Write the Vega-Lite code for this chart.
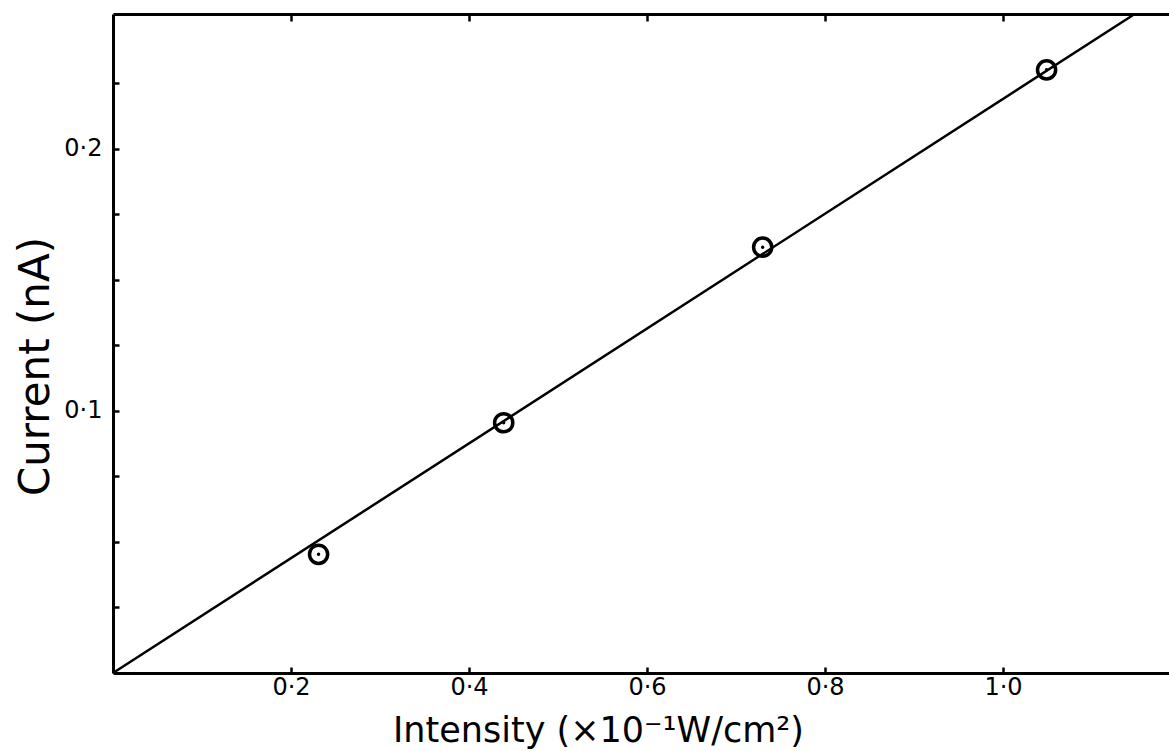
{
  "$schema": "https://vega.github.io/schema/vega-lite/v6.json",
  "autosize": "none",
  "padding": {"left": 113, "top": 14, "right": 0, "bottom": 78},
  "width": 1100,
  "height": 659,
  "background": "white",
  "config": {
    "view": {"stroke": null},
    "font": "DejaVu Sans",
    "axis": {"grid": false, "domainColor": "black", "domainWidth": 3, "tickColor": "black", "tickWidth": 2.5, "labelColor": "black", "titleColor": "black", "labelFont": "DejaVu Sans", "titleFont": "DejaVu Sans", "titleFontWeight": "normal"}
  },
  "datasets": {
    "pts": [
      {"intensity": 0.231, "current": 0.0453},
      {"intensity": 0.439, "current": 0.0955},
      {"intensity": 0.730, "current": 0.1625},
      {"intensity": 1.049, "current": 0.2302}
    ],
    "fit": [
      {"intensity": 0.0, "current": 0.0},
      {"intensity": 1.148, "current": 0.2515}
    ]
  },
  "layer": [
    {
      "data": {"name": "fit"},
      "mark": {"type": "line", "color": "black", "strokeWidth": 2.5},
      "encoding": {
        "x": {"field": "intensity", "type": "quantitative", "scale": {"domain": [0, 1.236], "nice": false},
          "axis": {"orient": "bottom", "values": [0.2, 0.4, 0.6, 0.8, 1.0], "tickSize": -6, "labelPadding": 8, "labelFontSize": 24, "labelExpr": "replace(format(datum.value, '.1f'), '.', '·')",
            "title": "Intensity (×10⁻¹W/cm²)", "titleFontSize": 35, "titleX": 485, "titleY": 68, "titleBaseline": "alphabetic", "titleAnchor": "middle", "titleAlign": "center"}},
        "y": {"field": "current", "type": "quantitative", "scale": {"domain": [0, 0.2515], "nice": false},
          "axis": {"values": [0.025, 0.05, 0.075, 0.1, 0.125, 0.15, 0.175, 0.2, 0.225], "tickSize": -6, "labelPadding": 17, "labelFontSize": 24,
            "labelExpr": "abs(datum.value - 0.1) < 0.001 || abs(datum.value - 0.2) < 0.001 ? replace(format(datum.value, '.1f'), '.', '·') : ''",
            "title": "Current (nA)", "titleFontSize": 42, "titleX": -78, "titleY": 352, "titleAngle": 270, "titleBaseline": "middle", "titleAlign": "center"}}
      }
    },
    {
      "data": {"name": "pts"},
      "mark": {"type": "point", "shape": "circle", "filled": false, "color": "black", "strokeWidth": 3.5, "size": 330, "opacity": 1},
      "encoding": {
        "x": {"field": "intensity", "type": "quantitative", "axis": {"orient": "top", "values": [0.2, 0.4, 0.6, 0.8, 1.0, 1.2], "tickSize": -7, "labels": false, "title": null}},
        "y": {"field": "current", "type": "quantitative"}
      }
    },
    {
      "data": {"name": "pts"},
      "mark": {"type": "point", "shape": "circle", "filled": true, "color": "black", "size": 12, "opacity": 1},
      "encoding": {
        "x": {"field": "intensity", "type": "quantitative", "axis": null},
        "y": {"field": "current", "type": "quantitative"}
      }
    }
  ],
  "resolve": {"axis": {"x": "independent"}}
}
